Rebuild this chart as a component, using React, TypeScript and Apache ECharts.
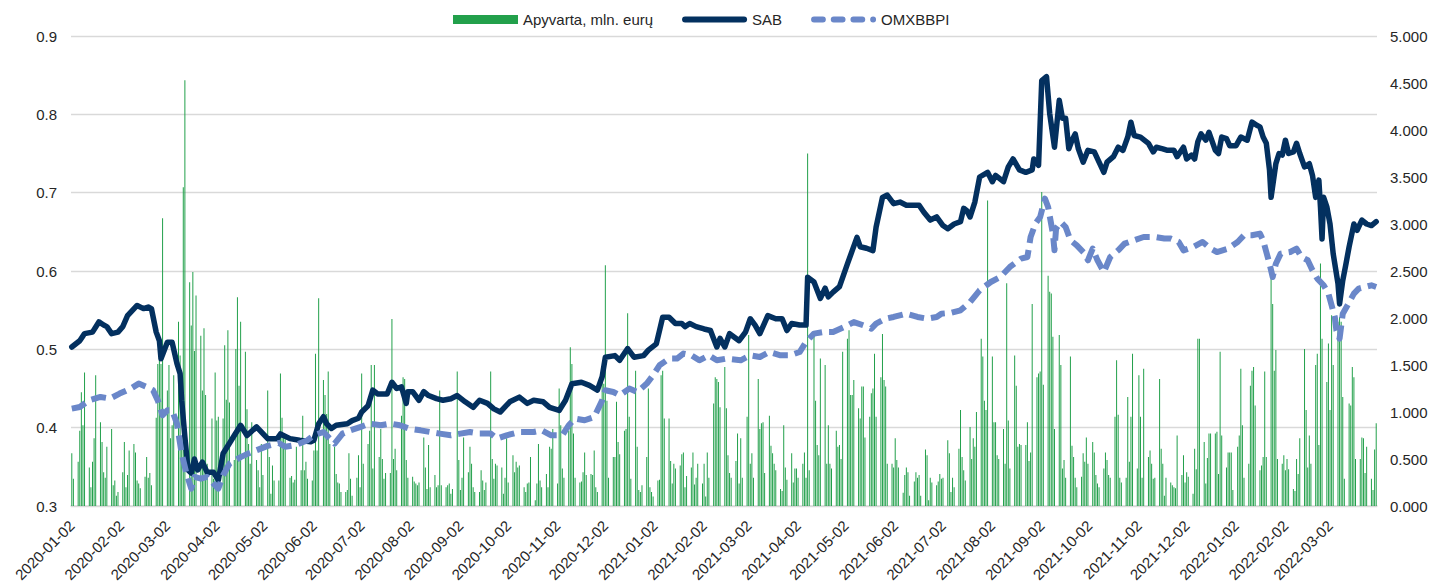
import React, { useEffect, useRef } from "react";
import * as echarts from "echarts";

// ---- data ----
const legendNames = ["Apyvarta, mln. eurų", "SAB", "OMXBBPI"];
const firstDay = "2020-01-02";
const lastDay = "2022-03-31";

// daily turnover (mln. eur), one value per weekday starting 2020-01-02
const turnover: number[] = [
  0.56, 0.29,
  0.47, 0.80, 1.21, 0.86, 1.42,
  0.41, 0.20, 0.47, 0.72, 1.39,
  0.89, 0.68, 0.36, 0.30, 0.63,
  0.82, 0.22, 0.27, 0.11, 0.15,
  0.36, 0.68, 0.20, 0.33, 0.59,
  0.66, 0.57, 0.27, 0.24, 0.19,
  0.31, 0.52, 0.30, 0.35, 0.22,
  0.94, 1.51, 1.69, 1.51, 3.06,
  1.23, 1.50, 0.72, 0.86, 1.39,
  1.96, 1.60, 0.73, 3.39, 4.53,
  2.38, 1.92, 2.49, 1.65, 2.24,
  1.81, 1.23, 1.89, 1.18, 0.45,
  0.93, 0.29, 1.42, 0.91, 0.95,
  0.93, 1.71, 1.13, 1.87, 1.10,
  0.49, 1.67, 2.22, 1.28, 1.96,
  1.64, 1.03, 0.66, 0.45, 0.89,
  0.49, 0.38, 0.20, 0.66, 0.33,
  1.23, 0.52, 0.13, 0.43, 0.27,
  0.27, 1.41, 0.94, 0.75, 0.71,
  0.30, 0.32, 0.25, 0.28, 0.63,
  0.38, 0.96, 0.38, 0.47, 0.29,
  0.27, 0.59, 1.62, 0.59, 2.21,
  1.34, 1.18, 0.98, 1.43, 0.66,
  0.63, 0.34, 0.25, 0.24, 0.15,
  0.15, 0.17, 0.56, 0.29, 0.11,
  0.30, 0.54, 0.20, 1.41, 0.45,
  0.66, 0.80, 1.50, 0.40, 1.50,
  0.52, 0.82, 0.50, 0.29, 0.35,
  0.35, 1.99, 0.50, 0.61, 0.38,
  0.96, 1.37, 1.35, 0.49, 0.30,
  0.31, 0.26, 0.24, 0.22, 0.25,
  0.73, 0.41, 0.18, 0.65, 0.20,
  0.33, 0.20, 0.22, 1.23, 0.22,
  0.20, 0.22, 0.24, 0.13, 0.18,
  1.43, 0.49, 0.17, 0.30, 0.73,
  0.36, 0.63, 0.45, 0.20, 0.15,
  0.15, 0.38, 0.27, 0.17, 0.25,
  1.43, 0.50, 0.29, 0.45, 0.43,
  0.41, 0.13, 0.30, 0.72, 0.25,
  0.54, 0.36, 0.47, 0.41, 0.43,
  0.20, 0.15, 0.24, 0.25, 0.52,
  0.06, 0.24, 0.66, 0.27, 0.20,
  0.34, 0.20, 0.63, 0.61, 0.82,
  0.24, 1.25, 0.86, 0.40, 0.30,
  0.80, 1.69, 1.51, 0.77, 0.30,
  0.25, 0.26, 0.36, 0.57, 0.33,
  0.34, 0.33, 0.59, 0.20, 0.15,
  1.35, 1.30, 2.56, 1.12, 0.30,
  0.52, 0.52, 1.11, 0.68, 0.55,
  0.80, 0.82, 2.05, 0.95, 0.29,
  1.44, 0.63, 0.17, 0.15, 0.22,
  0.52, 1.25, 0.20, 0.15, 0.10,
  0.27, 0.28, 1.39, 1.44, 0.93,
  0.93, 0.48, 0.24, 0.45, 0.40,
  0.43, 0.55, 0.57, 0.20, 0.32,
  0.41, 0.57, 0.23, 0.30, 0.45,
  0.24, 0.45, 0.10, 0.57, 0.30,
  1.09, 1.37, 1.35, 1.32, 1.05,
  1.48, 1.04, 0.54, 0.35, 0.30,
  0.48, 0.77, 0.24, 0.72, 0.30,
  0.95, 1.82, 0.45, 0.56, 0.30,
  1.35, 0.82, 0.88, 0.89, 0.35,
  0.96, 0.64, 0.56, 0.45, 0.38,
  0.18, 0.16, 0.86, 0.41, 0.28,
  0.56, 0.25, 0.40, 0.40, 0.30,
  0.45, 0.57, 0.30, 3.75, 0.38,
  1.82, 1.12, 0.65, 0.54, 1.57,
  1.50, 0.45, 0.86, 0.45, 0.40,
  0.80, 0.63, 0.65, 0.50, 1.64,
  1.78, 1.87, 1.18, 1.18, 1.34,
  1.04, 0.93, 1.27, 1.27, 0.73,
  0.95, 1.20, 1.25, 1.62, 0.95,
  1.37, 1.83, 1.34, 1.27, 0.45,
  0.45, 0.41, 0.72, 0.49, 0.41,
  0.14, 0.33, 0.41, 0.36, 0.11,
  0.26, 0.36, 0.30, 0.33, 0.11,
  0.60, 0.54, 0.06, 0.30, 0.25,
  0.22, 0.26, 0.34, 0.29, 0.30,
  0.70, 0.56, 0.15, 0.30, 0.20,
  0.61, 1.02, 0.52, 0.38, 0.27,
  0.84, 0.50, 0.72, 0.63, 1.00,
  1.78, 1.59, 1.12, 1.02, 3.25,
  1.59, 0.89, 0.89, 0.54, 0.50,
  0.82, 0.45, 2.37, 0.91, 0.40,
  1.60, 1.28, 0.63, 0.66, 0.65,
  0.65, 0.89, 0.48, 0.57, 2.15,
  1.37, 1.41, 1.43, 3.34, 1.29,
  2.45, 2.28, 2.26, 1.80, 0.82,
  1.82, 1.50, 0.40, 0.49, 0.30,
  1.59, 0.64, 0.52, 0.30, 0.20,
  0.31, 0.56, 0.47, 0.73, 0.45,
  0.68, 0.57, 0.33, 0.24, 0.20,
  0.40, 0.57, 0.49, 0.33, 0.30,
  0.95, 1.55, 0.97, 0.30, 0.25,
  0.30, 1.16, 0.47, 0.95, 1.62,
  0.40, 1.39, 0.95, 0.30, 1.46,
  0.52, 0.59, 0.45, 0.29, 0.30,
  1.35, 0.61, 0.45, 0.11, 0.30,
  0.25, 0.22, 0.20, 0.19, 0.75,
  0.33, 0.54, 0.25, 0.36, 0.31,
  0.13, 0.61, 0.39, 1.78, 1.78,
  0.68, 0.24, 0.51, 0.77, 0.77,
  0.77, 0.79, 0.34, 1.64, 0.75,
  0.41, 0.57, 0.57, 0.57, 0.17,
  0.63, 0.75, 1.46, 0.86, 0.30,
  0.45, 1.28, 1.44, 1.48, 1.07,
  0.38, 0.43, 0.52, 1.43, 0.52,
  2.51, 2.15, 1.44, 1.66, 0.50,
  0.45, 0.54, 0.38, 0.50, 0.39,
  0.18, 0.16, 0.50, 0.34, 0.72,
  1.67, 1.02, 0.41, 0.75, 0.45,
  1.50, 1.62, 0.65, 2.58, 1.78,
  1.32, 1.73, 1.02, 2.03, 1.50,
  1.96, 2.01, 1.96, 1.16, 0.29,
  1.09, 1.07, 1.48, 1.37, 0.50,
  0.50, 0.73, 0.72, 0.35, 0.63,
  0.29, 0.17, 0.60, 0.88,
];

// SAB share price (left axis)
const sabPoints: [string, number][] = [
  ["2020-01-02", 0.503], ["2020-01-07", 0.511], ["2020-01-10", 0.52], ["2020-01-15", 0.522],
  ["2020-01-19", 0.535], ["2020-01-22", 0.531], ["2020-01-24", 0.529], ["2020-01-27", 0.52],
  ["2020-01-31", 0.522], ["2020-02-03", 0.529], ["2020-02-06", 0.543], ["2020-02-12", 0.556],
  ["2020-02-16", 0.552], ["2020-02-19", 0.554], ["2020-02-21", 0.552], ["2020-02-24", 0.522],
  ["2020-02-26", 0.511], ["2020-02-27", 0.488], ["2020-03-02", 0.509], ["2020-03-05", 0.509],
  ["2020-03-08", 0.482], ["2020-03-10", 0.469], ["2020-03-11", 0.435], ["2020-03-13", 0.388],
  ["2020-03-15", 0.346], ["2020-03-17", 0.342], ["2020-03-19", 0.36], ["2020-03-21", 0.346],
  ["2020-03-24", 0.356], ["2020-03-27", 0.343], ["2020-03-31", 0.343], ["2020-04-03", 0.333],
  ["2020-04-06", 0.367], ["2020-04-10", 0.38], ["2020-04-17", 0.403], ["2020-04-21", 0.39],
  ["2020-04-27", 0.401], ["2020-05-04", 0.386], ["2020-05-10", 0.386], ["2020-05-12", 0.392],
  ["2020-05-18", 0.386], ["2020-05-24", 0.384], ["2020-05-31", 0.382], ["2020-06-02", 0.384],
  ["2020-06-05", 0.405], ["2020-06-08", 0.414], ["2020-06-10", 0.405], ["2020-06-13", 0.399],
  ["2020-06-16", 0.403], ["2020-06-23", 0.405], ["2020-06-26", 0.409], ["2020-06-30", 0.412],
  ["2020-07-02", 0.42], ["2020-07-06", 0.428], ["2020-07-09", 0.448], ["2020-07-12", 0.443],
  ["2020-07-18", 0.443], ["2020-07-21", 0.458], ["2020-07-24", 0.45], ["2020-07-27", 0.452],
  ["2020-07-30", 0.431], ["2020-07-31", 0.446], ["2020-08-03", 0.446], ["2020-08-07", 0.435],
  ["2020-08-10", 0.446], ["2020-08-13", 0.441], ["2020-08-18", 0.437], ["2020-08-22", 0.435],
  ["2020-08-27", 0.437], ["2020-08-31", 0.441], ["2020-09-05", 0.433], ["2020-09-10", 0.426],
  ["2020-09-14", 0.435], ["2020-09-19", 0.431], ["2020-09-23", 0.424], ["2020-09-27", 0.42],
  ["2020-10-03", 0.433], ["2020-10-09", 0.439], ["2020-10-14", 0.431], ["2020-10-18", 0.435],
  ["2020-10-24", 0.433], ["2020-10-28", 0.426], ["2020-11-03", 0.422], ["2020-11-07", 0.435],
  ["2020-11-11", 0.456], ["2020-11-17", 0.458], ["2020-11-22", 0.454], ["2020-11-27", 0.448],
  ["2020-11-30", 0.465], ["2020-12-02", 0.49], ["2020-12-08", 0.492], ["2020-12-11", 0.486],
  ["2020-12-16", 0.501], ["2020-12-20", 0.49], ["2020-12-26", 0.492], ["2020-12-29", 0.499],
  ["2021-01-03", 0.507], ["2021-01-05", 0.524], ["2021-01-07", 0.541], ["2021-01-11", 0.541],
  ["2021-01-15", 0.533], ["2021-01-19", 0.533], ["2021-01-21", 0.529], ["2021-01-24", 0.533],
  ["2021-01-28", 0.529], ["2021-02-02", 0.526], ["2021-02-06", 0.524], ["2021-02-10", 0.503],
  ["2021-02-12", 0.514], ["2021-02-15", 0.503], ["2021-02-18", 0.52], ["2021-02-24", 0.511],
  ["2021-02-28", 0.522], ["2021-03-03", 0.539], ["2021-03-06", 0.531], ["2021-03-09", 0.52],
  ["2021-03-14", 0.543], ["2021-03-19", 0.539], ["2021-03-23", 0.539], ["2021-03-26", 0.524],
  ["2021-03-29", 0.533], ["2021-04-03", 0.531], ["2021-04-07", 0.531], ["2021-04-08", 0.592],
  ["2021-04-12", 0.586], ["2021-04-16", 0.565], ["2021-04-19", 0.578], ["2021-04-21", 0.567],
  ["2021-04-24", 0.573], ["2021-04-28", 0.58], ["2021-05-03", 0.609], ["2021-05-06", 0.626],
  ["2021-05-09", 0.643], ["2021-05-11", 0.631], ["2021-05-15", 0.629], ["2021-05-19", 0.626],
  ["2021-05-21", 0.656], ["2021-05-25", 0.694], ["2021-05-28", 0.697], ["2021-06-01", 0.686],
  ["2021-06-05", 0.688], ["2021-06-09", 0.684], ["2021-06-17", 0.684], ["2021-06-20", 0.675],
  ["2021-06-24", 0.665], ["2021-06-28", 0.669], ["2021-07-02", 0.658], ["2021-07-05", 0.654],
  ["2021-07-09", 0.66], ["2021-07-13", 0.663], ["2021-07-15", 0.68], ["2021-07-17", 0.677],
  ["2021-07-19", 0.669], ["2021-07-22", 0.688], ["2021-07-25", 0.72], ["2021-07-30", 0.726],
  ["2021-08-02", 0.714], ["2021-08-04", 0.722], ["2021-08-09", 0.714], ["2021-08-12", 0.733],
  ["2021-08-15", 0.743], ["2021-08-19", 0.729], ["2021-08-23", 0.726], ["2021-08-27", 0.729],
  ["2021-08-28", 0.743], ["2021-08-31", 0.735], ["2021-09-02", 0.843], ["2021-09-05", 0.848],
  ["2021-09-07", 0.801], ["2021-09-10", 0.758], ["2021-09-13", 0.818], ["2021-09-15", 0.795],
  ["2021-09-17", 0.795], ["2021-09-19", 0.756], ["2021-09-21", 0.767], ["2021-09-23", 0.775],
  ["2021-09-25", 0.756], ["2021-09-28", 0.739], ["2021-10-01", 0.754], ["2021-10-05", 0.752],
  ["2021-10-08", 0.739], ["2021-10-11", 0.726], ["2021-10-13", 0.739], ["2021-10-17", 0.746],
  ["2021-10-20", 0.758], ["2021-10-23", 0.754], ["2021-10-26", 0.771], ["2021-10-28", 0.79],
  ["2021-10-30", 0.773], ["2021-11-03", 0.771], ["2021-11-08", 0.763], ["2021-11-11", 0.752],
  ["2021-11-13", 0.758], ["2021-11-17", 0.756], ["2021-11-20", 0.754], ["2021-11-24", 0.754],
  ["2021-11-26", 0.746], ["2021-11-30", 0.758], ["2021-12-02", 0.743], ["2021-12-05", 0.748],
  ["2021-12-07", 0.743], ["2021-12-09", 0.765], ["2021-12-11", 0.775], ["2021-12-14", 0.767],
  ["2021-12-16", 0.777], ["2021-12-20", 0.754], ["2021-12-22", 0.75], ["2021-12-24", 0.771],
  ["2021-12-27", 0.769], ["2021-12-29", 0.76], ["2022-01-02", 0.76], ["2022-01-05", 0.771],
  ["2022-01-09", 0.767], ["2022-01-12", 0.79], ["2022-01-15", 0.786], ["2022-01-17", 0.784],
  ["2022-01-19", 0.771], ["2022-01-21", 0.763], ["2022-01-23", 0.729], ["2022-01-24", 0.694],
  ["2022-01-27", 0.737], ["2022-01-29", 0.75], ["2022-01-31", 0.748], ["2022-02-02", 0.767],
  ["2022-02-04", 0.75], ["2022-02-07", 0.752], ["2022-02-09", 0.763], ["2022-02-11", 0.75],
  ["2022-02-14", 0.733], ["2022-02-17", 0.737], ["2022-02-19", 0.722], ["2022-02-21", 0.694],
  ["2022-02-23", 0.716], ["2022-02-24", 0.682], ["2022-02-25", 0.641], ["2022-02-26", 0.694],
  ["2022-02-28", 0.682], ["2022-03-02", 0.66], ["2022-03-04", 0.622], ["2022-03-07", 0.584],
  ["2022-03-08", 0.558], ["2022-03-10", 0.588], ["2022-03-12", 0.609], ["2022-03-14", 0.631],
  ["2022-03-17", 0.66], ["2022-03-19", 0.652], ["2022-03-22", 0.665], ["2022-03-25", 0.66],
  ["2022-03-28", 0.658], ["2022-03-31", 0.663],
];

// OMXBBPI index, thousands (right axis)
const omxPoints: [string, number][] = [
  ["2020-01-02", 1.036], ["2020-01-07", 1.053], ["2020-01-13", 1.124], ["2020-01-20", 1.16],
  ["2020-01-26", 1.143], ["2020-02-01", 1.196], ["2020-02-08", 1.249], ["2020-02-13", 1.302],
  ["2020-02-18", 1.266], ["2020-02-22", 1.231], ["2020-02-25", 1.124], ["2020-02-28", 0.965],
  ["2020-03-02", 1.018], ["2020-03-05", 1.018], ["2020-03-08", 0.877], ["2020-03-11", 0.557],
  ["2020-03-14", 0.345], ["2020-03-17", 0.185], ["2020-03-19", 0.309], ["2020-03-23", 0.291],
  ["2020-03-27", 0.309], ["2020-03-31", 0.238], ["2020-04-03", 0.185], ["2020-04-06", 0.327],
  ["2020-04-10", 0.451], ["2020-04-17", 0.52], ["2020-04-22", 0.56], ["2020-04-28", 0.6],
  ["2020-05-04", 0.64], ["2020-05-11", 0.67], ["2020-05-15", 0.63], ["2020-05-22", 0.65],
  ["2020-05-29", 0.7], ["2020-06-02", 0.752], ["2020-06-08", 0.787], ["2020-06-13", 0.699],
  ["2020-06-15", 0.664], ["2020-06-20", 0.77], ["2020-06-25", 0.805], ["2020-07-01", 0.84],
  ["2020-07-07", 0.877], ["2020-07-14", 0.859], ["2020-07-20", 0.877], ["2020-07-26", 0.859],
  ["2020-08-01", 0.823], ["2020-08-08", 0.805], ["2020-08-14", 0.787], ["2020-08-20", 0.77],
  ["2020-08-27", 0.752], ["2020-09-02", 0.77], ["2020-09-08", 0.787], ["2020-09-14", 0.77],
  ["2020-09-21", 0.77], ["2020-09-25", 0.717], ["2020-10-01", 0.752], ["2020-10-09", 0.787],
  ["2020-10-18", 0.787], ["2020-10-23", 0.805], ["2020-10-29", 0.752], ["2020-11-05", 0.752],
  ["2020-11-09", 0.859], ["2020-11-13", 0.93], ["2020-11-19", 0.912], ["2020-11-25", 0.947],
  ["2020-11-30", 1.124], ["2020-12-02", 1.231], ["2020-12-07", 1.213], ["2020-12-11", 1.178],
  ["2020-12-17", 1.249], ["2020-12-22", 1.213], ["2020-12-28", 1.302], ["2021-01-01", 1.39],
  ["2021-01-05", 1.497], ["2021-01-11", 1.568], ["2021-01-16", 1.568], ["2021-01-20", 1.621],
  ["2021-01-25", 1.603], ["2021-01-30", 1.55], ["2021-02-05", 1.603], ["2021-02-10", 1.55],
  ["2021-02-16", 1.568], ["2021-02-25", 1.55], ["2021-03-03", 1.603], ["2021-03-09", 1.585],
  ["2021-03-15", 1.638], ["2021-03-22", 1.603], ["2021-03-28", 1.603], ["2021-04-03", 1.638],
  ["2021-04-07", 1.745], ["2021-04-12", 1.834], ["2021-04-18", 1.851], ["2021-04-24", 1.851],
  ["2021-05-01", 1.904], ["2021-05-07", 1.957], ["2021-05-13", 1.922], ["2021-05-18", 1.887],
  ["2021-05-21", 1.94], ["2021-05-27", 1.993], ["2021-06-01", 2.011], ["2021-06-09", 2.046],
  ["2021-06-16", 2.011], ["2021-06-22", 1.993], ["2021-06-28", 2.011], ["2021-07-01", 2.046],
  ["2021-07-07", 2.055], ["2021-07-13", 2.082], ["2021-07-19", 2.17], ["2021-07-25", 2.295],
  ["2021-08-01", 2.383], ["2021-08-07", 2.436], ["2021-08-13", 2.543], ["2021-08-20", 2.632],
  ["2021-08-24", 2.649], ["2021-08-26", 2.862], ["2021-08-29", 3.004], ["2021-09-01", 3.074],
  ["2021-09-04", 3.27], ["2021-09-06", 3.181], ["2021-09-09", 2.898], ["2021-09-10", 2.72],
  ["2021-09-11", 2.951], ["2021-09-14", 3.021], ["2021-09-17", 2.968], ["2021-09-20", 2.827],
  ["2021-09-24", 2.773], ["2021-09-29", 2.685], ["2021-10-01", 2.614], ["2021-10-04", 2.738],
  ["2021-10-07", 2.614], ["2021-10-11", 2.489], ["2021-10-15", 2.649], ["2021-10-20", 2.72],
  ["2021-10-24", 2.791], ["2021-10-30", 2.827], ["2021-11-05", 2.862], ["2021-11-12", 2.862],
  ["2021-11-18", 2.845], ["2021-11-22", 2.845], ["2021-11-27", 2.809], ["2021-11-30", 2.72],
  ["2021-12-06", 2.755], ["2021-12-12", 2.809], ["2021-12-17", 2.738], ["2021-12-21", 2.702],
  ["2021-12-28", 2.738], ["2022-01-03", 2.809], ["2022-01-07", 2.88], ["2022-01-12", 2.88],
  ["2022-01-17", 2.898], ["2022-01-19", 2.827], ["2022-01-21", 2.702], ["2022-01-23", 2.578],
  ["2022-01-25", 2.436], ["2022-01-27", 2.578], ["2022-01-30", 2.685], ["2022-02-05", 2.702],
  ["2022-02-09", 2.738], ["2022-02-12", 2.649], ["2022-02-16", 2.614], ["2022-02-19", 2.507],
  ["2022-02-22", 2.419], ["2022-02-26", 2.348], ["2022-03-01", 2.26], ["2022-03-03", 2.135],
  ["2022-03-05", 2.011], ["2022-03-06", 1.869], ["2022-03-08", 1.781], ["2022-03-10", 2.046],
  ["2022-03-13", 2.135], ["2022-03-17", 2.26], ["2022-03-20", 2.313], ["2022-03-24", 2.33],
  ["2022-03-28", 2.348], ["2022-03-31", 2.33],
];

// ---- helpers ----
function pad(n: number) {
  return n < 10 ? "0" + n : "" + n;
}
function fmt(d: Date) {
  return d.getFullYear() + "-" + pad(d.getMonth() + 1) + "-" + pad(d.getDate());
}
function parse(s: string) {
  const [y, m, d] = s.split("-").map(Number);
  return new Date(y, m - 1, d);
}
function buildCalendar() {
  const all: string[] = [];
  const weekdays: string[] = [];
  const end = parse(lastDay).getTime();
  for (let d = parse(firstDay); d.getTime() <= end; d = new Date(d.getFullYear(), d.getMonth(), d.getDate() + 1)) {
    const s = fmt(d);
    all.push(s);
    const wd = d.getDay();
    if (wd !== 0 && wd !== 6) weekdays.push(s);
  }
  return { all, weekdays };
}

const FONT = "'Liberation Sans', Arial, sans-serif";
const TEXT = "#262626";
const SAB_COLOR = "#03305f";
const OMX_COLOR = "#6a87c9";

// legend icons: a solid thick line, and a dashed line ending in a dot
const solidIcon = "path://M3,0H62A3,3,0,0,1,62,6H3A3,3,0,0,1,3,0Z";
const dashedIcon =
  "path://M3,0H12A3,3,0,0,1,12,6H3A3,3,0,0,1,3,0Z" +
  "M23,0H32A3,3,0,0,1,32,6H23A3,3,0,0,1,23,0Z" +
  "M43,0H52A3,3,0,0,1,52,6H43A3,3,0,0,1,43,0Z" +
  "M63,0A3,3,0,0,1,63,6A3,3,0,0,1,63,0Z";

export default function App() {
  const ref = useRef<HTMLDivElement>(null);
  useEffect(() => {
    if (!ref.current) return;
    const chart = echarts.init(ref.current, undefined, { renderer: "svg" });
    const { all, weekdays } = buildCalendar();
    const barData = weekdays.map((d, i) => [d, turnover[i] ?? null]);
    chart.setOption({
      animation: false,
      backgroundColor: "#ffffff",
      textStyle: { fontFamily: FONT },
      legend: {
        left: 453,
        top: 12,
        padding: 0,
        itemWidth: 65,
        itemHeight: 9,
        itemGap: 29,
        textStyle: { fontFamily: FONT, fontSize: 15, color: TEXT },
        data: [
          { name: legendNames[0], icon: "rect" },
          { name: legendNames[1], icon: solidIcon },
          { name: legendNames[2], icon: dashedIcon },
        ],
      },
      grid: { left: 71, right: 54, top: 36, bottom: 79, outerBoundsMode: "none" },
      xAxis: {
        type: "category",
        data: all,
        boundaryGap: true,
        axisLine: { show: true, lineStyle: { color: "#d9d9d9", width: 1.5 } },
        axisTick: { show: false },
        splitLine: { show: false },
        axisLabel: {
          interval: (_i: number, v: string) => v.slice(8) === "02",
          rotate: 45,
          margin: 17,
          fontFamily: FONT,
          fontSize: 15,
          color: TEXT,
        },
      },
      yAxis: [
        {
          type: "value",
          position: "left",
          min: 0.3,
          max: 0.9,
          interval: 0.1,
          axisLine: { show: false },
          axisTick: { show: false },
          splitLine: { lineStyle: { color: "#d9d9d9", width: 1.3 } },
          axisLabel: {
            formatter: (v: number) => v.toFixed(1),
            margin: 14,
            fontFamily: FONT,
            fontSize: 15,
            color: TEXT,
          },
        },
        {
          type: "value",
          position: "right",
          min: 0,
          max: 5,
          interval: 0.5,
          axisLine: { show: false },
          axisTick: { show: false },
          splitLine: { show: false },
          axisLabel: {
            formatter: (v: number) => v.toFixed(3),
            margin: 13,
            fontFamily: FONT,
            fontSize: 15,
            color: TEXT,
          },
        },
      ],
      series: [
        {
          name: legendNames[0],
          type: "bar",
          yAxisIndex: 1,
          data: barData,
          barWidth: 0.65,
          itemStyle: { color: "#22a04b" },
        },
        {
          name: legendNames[1],
          type: "line",
          yAxisIndex: 0,
          data: sabPoints,
          symbol: "none",
          itemStyle: { color: SAB_COLOR },
          lineStyle: { color: SAB_COLOR, width: 5.5, join: "round", cap: "round" },
        },
        {
          name: legendNames[2],
          type: "line",
          yAxisIndex: 1,
          data: omxPoints,
          symbol: "none",
          itemStyle: { color: OMX_COLOR },
          lineStyle: { color: OMX_COLOR, width: 6, type: [15, 7], join: "round" },
        },
      ],
    });
    return () => chart.dispose();
  }, []);
  return (
    <div
      ref={ref}
      style={{ position: "fixed", left: 0, top: 0, width: 1431, height: 585, background: "#fff" }}
    />
  );
}
